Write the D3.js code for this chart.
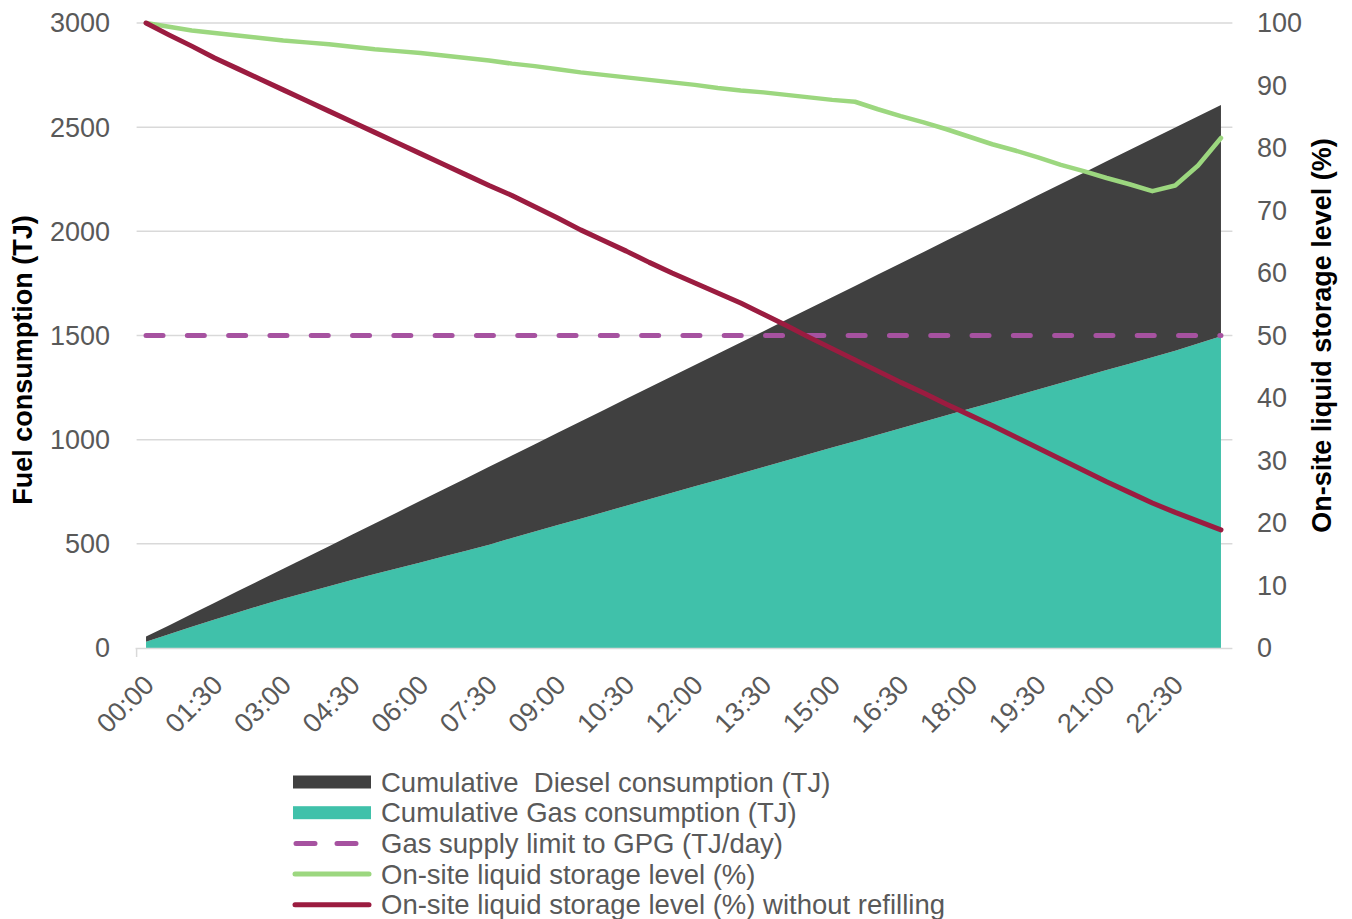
<!DOCTYPE html>
<html>
<head>
<meta charset="utf-8">
<script src="https://cdn.jsdelivr.net/npm/d3@7/dist/d3.min.js"></script>
<style>
  html, body { margin: 0; padding: 0; background: #ffffff; }
  svg { display: block; font-family: "Liberation Sans", Arial, sans-serif; }
  .legend-text { white-space: pre; }
</style>
</head>
<body>
<svg id="chart" width="1352" height="919"></svg>
<script>
// ---------------- DATA ----------------
const categories = [
  "00:00","00:30","01:00","01:30","02:00","02:30","03:00","03:30","04:00","04:30",
  "05:00","05:30","06:00","06:30","07:00","07:30","08:00","08:30","09:00","09:30",
  "10:00","10:30","11:00","11:30","12:00","12:30","13:00","13:30","14:00","14:30",
  "15:00","15:30","16:00","16:30","17:00","17:30","18:00","18:30","19:00","19:30",
  "20:00","20:30","21:00","21:30","22:00","22:30","23:00","23:30"
];
const tickLabels = ["00:00","01:30","03:00","04:30","06:00","07:30","09:00","10:30",
  "12:00","13:30","15:00","16:30","18:00","19:30","21:00","22:30"];
const leftTicks = [0, 500, 1000, 1500, 2000, 2500, 3000];
const rightTicks = [0, 10, 20, 30, 40, 50, 60, 70, 80, 90, 100];

// Cumulative Gas consumption (TJ)
const gasCum = [30,66,102,137,171,204,236,266,296,326,355,383,411,439,467,496,528,559,
  590,621,652,683,714,745,776,807,838,869,900,931,962,993,1024,1055,1086,1117,1148,
  1179,1210,1241,1272,1303,1334,1365,1396,1427,1462,1497];
// Cumulative Diesel consumption (TJ) (stacked on gas)
const dieselCum = [25,42,61,80,101,122,145,169,193,218,243,269,296,322,348,374,396,419,
  443,466,489,513,536,559,582,606,629,652,676,699,722,745,769,792,815,839,862,885,908,
  932,955,978,1002,1025,1048,1072,1091,1110];
// Gas supply limit to GPG (TJ/day)
const gasLimit = categories.map(() => 1500);
// On-site liquid storage level (%)
const storage = [100,99.4,98.8,98.4,98.0,97.6,97.2,96.9,96.6,96.2,95.8,95.5,95.2,94.8,
  94.4,94.0,93.5,93.1,92.6,92.1,91.7,91.3,90.9,90.5,90.1,89.6,89.2,88.9,88.5,88.1,87.7,
  87.4,86.2,85.1,84.1,83.0,81.8,80.6,79.6,78.5,77.3,76.3,75.2,74.2,73.1,74.0,77.2,81.6];
// On-site liquid storage level (%) without refilling
const storageNoRefill = [100,98.1,96.3,94.4,92.7,91.0,89.3,87.6,85.9,84.2,82.5,80.8,79.1,
  77.4,75.7,74.0,72.4,70.6,68.8,66.9,65.2,63.5,61.7,60.0,58.4,56.8,55.2,53.4,51.6,49.7,
  47.9,46.1,44.3,42.5,40.8,39.0,37.3,35.6,33.8,32.0,30.2,28.4,26.6,24.9,23.2,21.7,20.3,18.9];

const legendItems = [
  {label: "Cumulative  Diesel consumption (TJ)", type: "rect", color: "#404040"},
  {label: "Cumulative Gas consumption (TJ)", type: "rect", color: "#40c1aa"},
  {label: "Gas supply limit to GPG (TJ/day)", type: "dash", color: "#a652a0"},
  {label: "On-site liquid storage level (%)", type: "line", color: "#9cd77f"},
  {label: "On-site liquid storage level (%) without refilling", type: "line", color: "#9b1c40"}
];

// ---------------- LAYOUT ----------------
const svg = d3.select("#chart");
const plotLeft = 134.6, plotRight = 1232.4, plotTop = 23, plotBottom = 648;
const textColor = "#595959";
const fontSize = 27;

const x = d3.scalePoint().domain(categories).range([plotLeft, plotRight]).padding(0.5);
const yL = d3.scaleLinear().domain([0, 3000]).range([plotBottom, plotTop]);
const yR = d3.scaleLinear().domain([0, 100]).range([plotBottom, plotTop]);

// gridlines
svg.append("g").selectAll("line").data(leftTicks.filter(d => d > 0)).join("line")
  .attr("x1", plotLeft + 2).attr("x2", plotRight)
  .attr("y1", d => yL(d)).attr("y2", d => yL(d))
  .attr("stroke", "#d9d9d9").attr("stroke-width", 1.5);

// stacked areas
const rows = categories.map((c, i) => ({c, gas: gasCum[i], diesel: dieselCum[i]}));
const stack = d3.stack().keys(["gas", "diesel"]);
const series = stack(rows);
const areaColors = {gas: "#40c1aa", diesel: "#404040"};
const area = d3.area()
  .x(d => x(d.data.c))
  .y0(d => yL(d[0]))
  .y1(d => yL(d[1]));
svg.append("g").selectAll("path").data(series).join("path")
  .attr("d", area)
  .attr("fill", d => areaColors[d.key]);

// x axis baseline
svg.append("line")
  .attr("x1", plotLeft + 1).attr("x2", plotRight)
  .attr("y1", plotBottom + 0.5).attr("y2", plotBottom + 0.5)
  .attr("stroke", "#d9d9d9").attr("stroke-width", 1.5);
svg.append("line")
  .attr("x1", plotLeft + 2).attr("x2", plotLeft + 2)
  .attr("y1", plotBottom).attr("y2", plotBottom + 9)
  .attr("stroke", "#d9d9d9").attr("stroke-width", 1.5);

// lines
const lineL = d3.line().x((d, i) => x(categories[i])).y(d => yL(d));
const lineR = d3.line().x((d, i) => x(categories[i])).y(d => yR(d));

svg.append("path").datum(gasLimit).attr("d", lineL)
  .attr("fill", "none").attr("stroke", "#a652a0").attr("stroke-width", 5)
  .attr("stroke-linecap", "round").attr("stroke-dasharray", "17,24.3");

svg.append("path").datum(storage).attr("d", lineR)
  .attr("fill", "none").attr("stroke", "#9cd77f").attr("stroke-width", 4.5)
  .attr("stroke-linejoin", "round").attr("stroke-linecap", "round");

svg.append("path").datum(storageNoRefill).attr("d", lineR)
  .attr("fill", "none").attr("stroke", "#9b1c40").attr("stroke-width", 5)
  .attr("stroke-linejoin", "round").attr("stroke-linecap", "round");

// left axis labels
svg.append("g").selectAll("text").data(leftTicks).join("text")
  .attr("x", 110).attr("y", d => yL(d)).attr("dy", "0.35em")
  .attr("text-anchor", "end").attr("fill", textColor)
  .attr("font-size", fontSize).text(d => d);

// right axis labels
svg.append("g").selectAll("text").data(rightTicks).join("text")
  .attr("x", 1257).attr("y", d => yR(d)).attr("dy", "0.35em")
  .attr("text-anchor", "start").attr("fill", textColor)
  .attr("font-size", fontSize).text(d => d);

// x axis labels
svg.append("g").selectAll("text").data(tickLabels).join("text")
  .attr("transform", d => `translate(${x(d) + 3},${plotBottom + 32}) rotate(-45)`)
  .attr("dy", "0.35em")
  .attr("text-anchor", "end").attr("fill", textColor)
  .attr("font-size", fontSize).text(d => d);

// axis titles
svg.append("text")
  .attr("transform", `translate(32,360) rotate(-90)`)
  .attr("text-anchor", "middle").attr("font-weight", "bold")
  .attr("font-size", fontSize).attr("fill", "#000").text("Fuel consumption (TJ)");
svg.append("text")
  .attr("transform", `translate(1331,${(plotTop + plotBottom) / 2}) rotate(-90)`)
  .attr("text-anchor", "middle").attr("font-weight", "bold")
  .attr("font-size", fontSize).attr("fill", "#000").text("On-site liquid storage level (%)");

// legend
const lg = svg.append("g");
const rowY = i => 782 + i * 30.7;
legendItems.forEach((it, i) => {
  const cy = rowY(i);
  if (it.type === "rect") {
    lg.append("rect").attr("x", 293).attr("y", cy - 6.5).attr("width", 78).attr("height", 13)
      .attr("fill", it.color);
  } else if (it.type === "dash") {
    lg.append("line").attr("x1", 296).attr("x2", 370).attr("y1", cy).attr("y2", cy)
      .attr("stroke", it.color).attr("stroke-width", 5).attr("stroke-linecap", "round")
      .attr("stroke-dasharray", "19,22");
  } else {
    lg.append("line").attr("x1", 295).attr("x2", 369).attr("y1", cy).attr("y2", cy)
      .attr("stroke", it.color).attr("stroke-width", 5).attr("stroke-linecap", "round");
  }
  lg.append("text").attr("class", "legend-text").attr("x", 381).attr("y", cy).attr("dy", "0.35em")
    .attr("font-size", 27.5).attr("fill", textColor).text(it.label);
});
</script>
</body>
</html>
